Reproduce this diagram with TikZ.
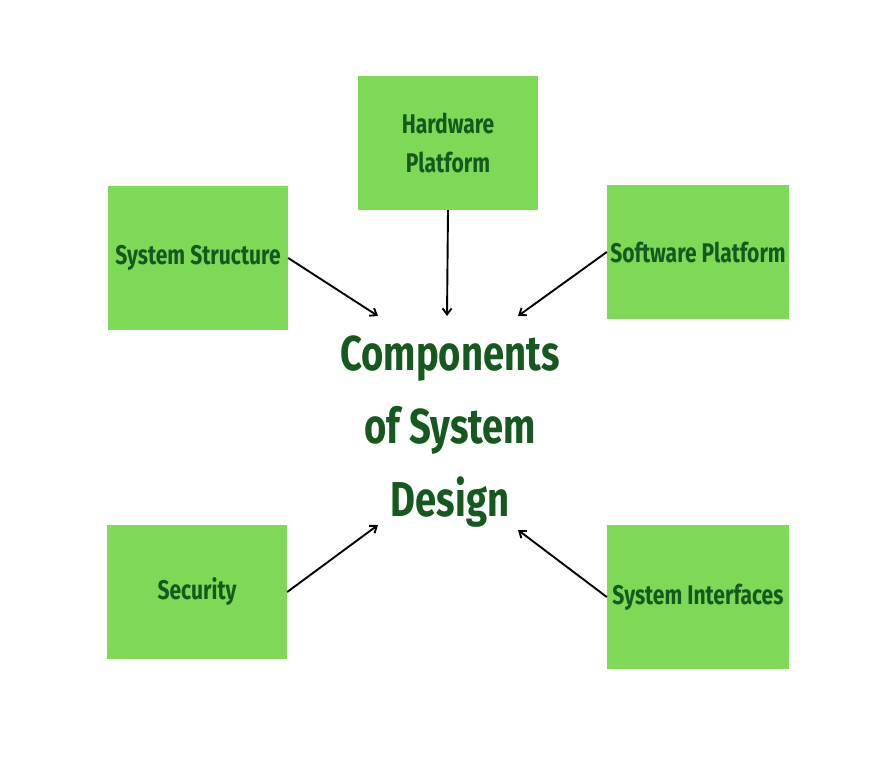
\documentclass[tikz,border=0pt]{standalone}
\usepackage{fontspec}
\usepackage{xcolor}
\usetikzlibrary{positioning,arrows.meta}
\newfontfamily\cardfont{Fira Sans}[FakeStretch=0.78]
\definecolor{boxCol}{HTML}{7ED957}
\definecolor{txtCol}{HTML}{16591F}

\begin{document}
\begin{tikzpicture}[
    x=1pt, y=-1pt,
    >={Straight Barb[length=6pt,width=9pt]},
    font=\cardfont\bfseries\fontsize{27}{39}\selectfont,
    card/.style={fill=boxCol, draw=none, text=txtCol,
      minimum width=180pt, minimum height=134pt, align=center, inner sep=2pt},
    hub/.style={text=txtCol, align=center,
      font=\cardfont\bfseries\fontsize{49}{73}\selectfont},
    arr/.style={->, line width=1.9pt, draw=black},
  ]
\useasboundingbox (0,0) rectangle (896,756);

% Outer cards
\node[card] (hw) at (448,143) {Hardware\\Platform};
\node[card, minimum height=144pt] (struct) at (198,258) {System Structure};
\node[card, minimum width=182pt] (soft) at (698,252) {Software Platform};
\node[card] (sec) at (197,592) {Security};
\node[card, minimum width=182pt, minimum height=144pt] (iface) at (698,597) {System Interfaces};

% Centre title
\node[hub] (title) at (450,432) {Components\\of System\\Design};

% Arrow targets round the title
\coordinate (tnw) at (378,316);
\coordinate (tn) at (447,316);
\coordinate (tne) at (518,316);
\coordinate (tsw) at (378,525);
\coordinate (tse) at (518,530);

% Arrows
\draw[arr] (struct.east) -- (tnw);
\draw[arr] (hw.south) -- (tn);
\draw[arr] (soft.west) -- (tne);
\draw[arr] (sec.east) -- (tsw);
\draw[arr] (iface.west) -- (tse);

\end{tikzpicture}
\end{document}
